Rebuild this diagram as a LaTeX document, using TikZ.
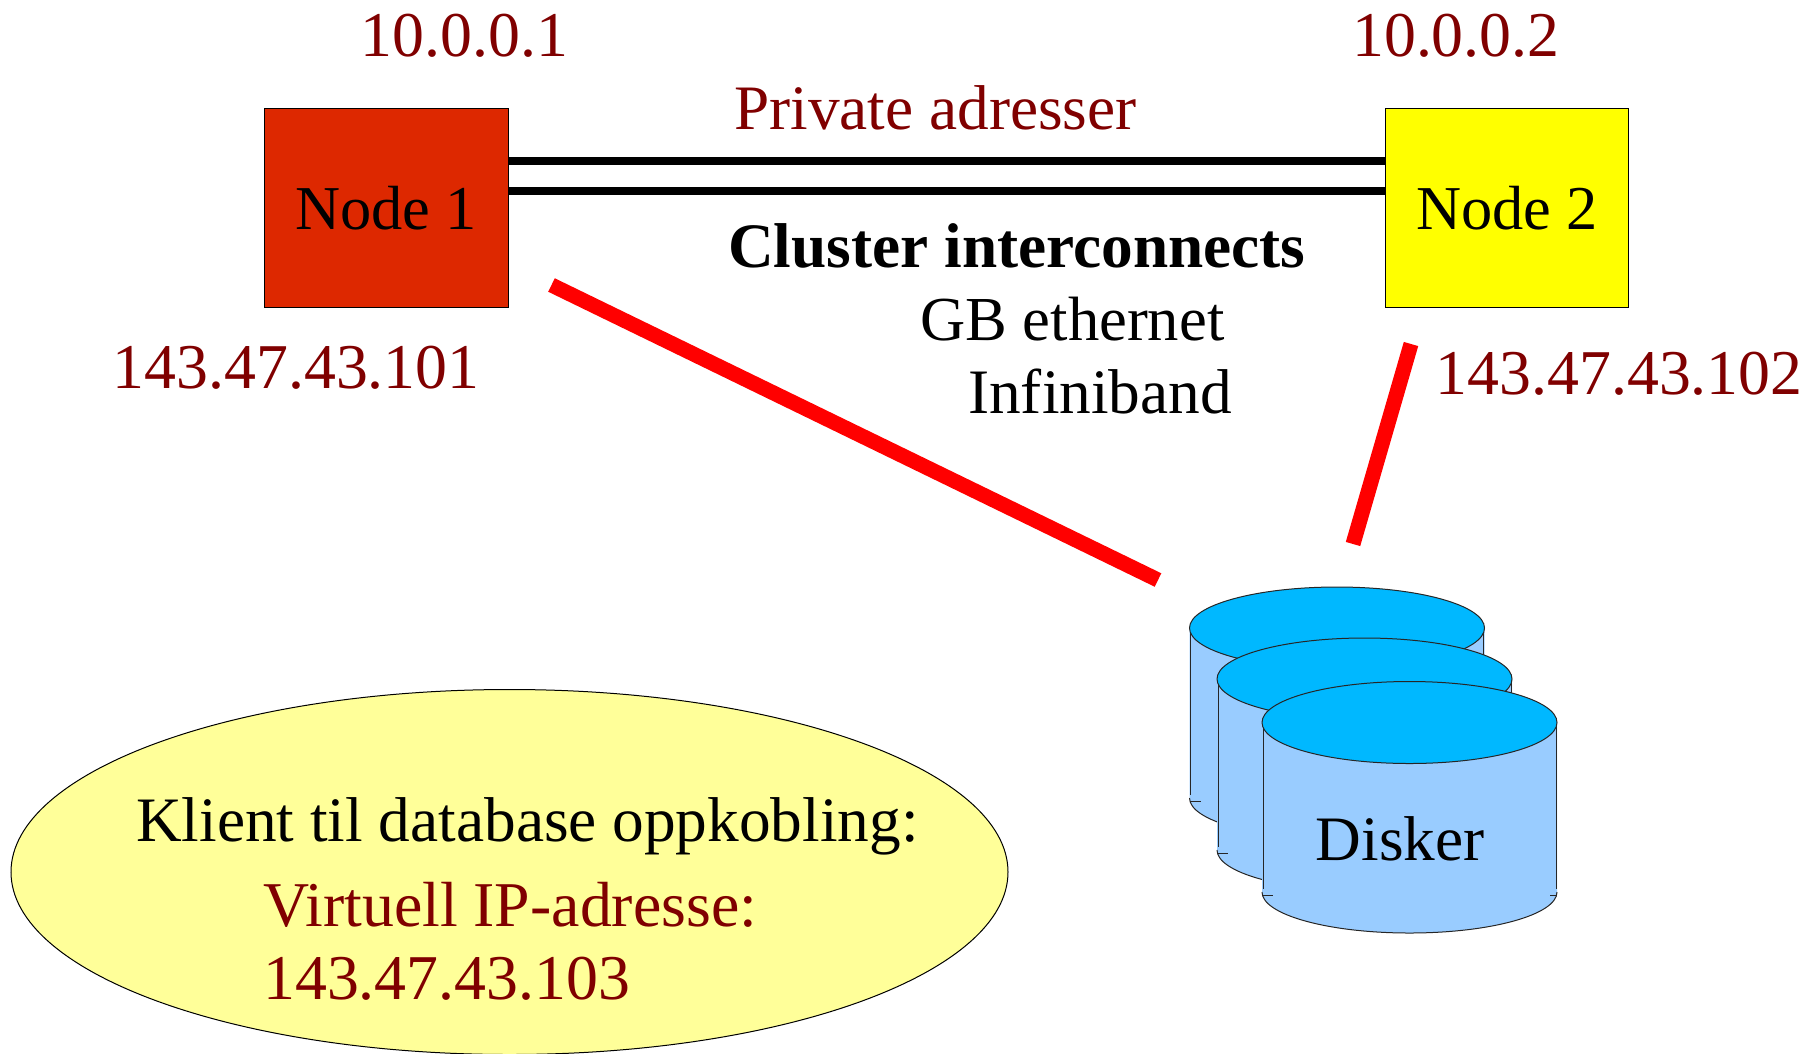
\documentclass[tikz,border=0pt]{standalone}
\usepackage{fontspec}
\setmainfont{Liberation Serif}
\usetikzlibrary{shapes.geometric}
\definecolor{nodered}{HTML}{DD2800}
\definecolor{nodeyellow}{HTML}{FFFF00}
\definecolor{paleyellow}{HTML}{FFFF99}
\definecolor{disktop}{HTML}{00B8FF}
\definecolor{diskside}{HTML}{99CCFF}
\definecolor{darkred}{HTML}{800000}
\tikzset{
  label text/.style={inner sep=0pt,anchor=base west,font=\fontsize{63.3}{64}\selectfont,text=black},
  address/.style={label text,text=darkred},
  number/.style={address,font=\fontsize{63.8}{64}\selectfont},
  hostname/.style={label text,anchor=base,font=\fontsize{62.4}{64}\selectfont},
  hostbox/.style={draw=black,line width=1pt,minimum width=243.5pt,minimum height=199pt,inner sep=0pt},
  interconnect/.style={draw=black,line width=8pt},
  storage link/.style={draw=red,line width=15pt},
  diskline/.style={draw=black!85,line width=1pt}
}
% centre x, top-ellipse centre y, bottom-ellipse centre y
\newcommand{\diskdraw}[3]{%
  \fill[diskside] (#1-147.5,#2) -- (#1-147.5,#3) arc[start angle=180,end angle=0,x radius=147.5,y radius=41] -- (#1+147.5,#2) -- cycle;
  \draw[diskline] (#1-146.5,#2) -- (#1-146.5,#3-3);
  \draw[diskline] (#1+146.5,#2) -- (#1+146.5,#3-3);
  \draw[diskline] (#1-147.5,#3) arc[start angle=180,end angle=0,x radius=147.5,y radius=41];
  \draw[diskline] (#1-147.5,#3+3) -- (#1-136.5,#3+3);
  \draw[diskline] (#1+147.5,#3+3) -- (#1+140,#3+3);
  \draw[diskline,fill=disktop] (#1,#2) ellipse[x radius=147.5,y radius=41];
}
\begin{document}
\begin{tikzpicture}[x=1pt,y=-1pt]
\useasboundingbox (0,0) rectangle (1812,1053);
\node[hostbox,fill=nodered] (n1) at (386.5,207.5) {};
\node[hostbox,fill=nodeyellow] (n2) at (1506.8,207.5) {};
\node[hostname] (n1t) at (386,229) {Node 1};
\node[hostname] (n2t) at (1507,229) {Node 2};
\coordinate (upper) at (900,160.7);
\coordinate (lower) at (900,190.7);
\draw[interconnect] (n1.east |- upper) -- (n2.west |- upper);
\draw[interconnect] (n1.east |- lower) -- (n2.west |- lower);
\coordinate (a1) at (551.5,285);
\coordinate (a2) at (1158,580);
\coordinate (b1) at (1411,344);
\coordinate (b2) at (1353,544);
\draw[storage link] (a1) -- (a2);
\draw[storage link] (b1) -- (b2);
\node[number] (ip1) at (360.5,56) {10.0.0.1};
\node[number] (ip2) at (1352,56) {10.0.0.2};
\node[address] (priv) at (734,129) {Private adresser};
\node[label text,font=\fontsize{63.3}{64}\selectfont\bfseries] (ci) at (728,267) {Cluster interconnects};
\node[label text,font=\fontsize{62.6}{64}\selectfont] (gb) at (920,340) {GB ethernet};
\node[label text] (ib) at (968,413.5) {Infiniband};
\node[number] (pub1) at (112.5,388) {143.47.43.101};
\node[number] (pub2) at (1435.5,394) {143.47.43.102};
\node[ellipse,draw=black,line width=1pt,fill=paleyellow,minimum width=997pt,minimum height=365pt,inner sep=0pt] (vip) at (509.5,872) {};
\node[label text] (kl) at (136,841) {Klient til database oppkobling:};
\node[address,font=\fontsize{63.8}{64}\selectfont] (vi) at (263,926) {Virtuell IP-adresse:};
\node[number] (vn) at (263,999) {143.47.43.103};
\diskdraw{1337}{628}{798}
\diskdraw{1364.5}{679}{850}
\diskdraw{1409.5}{722.5}{892}
\node[label text] (dk) at (1315.5,860) {Disker};
\end{tikzpicture}
\end{document}
